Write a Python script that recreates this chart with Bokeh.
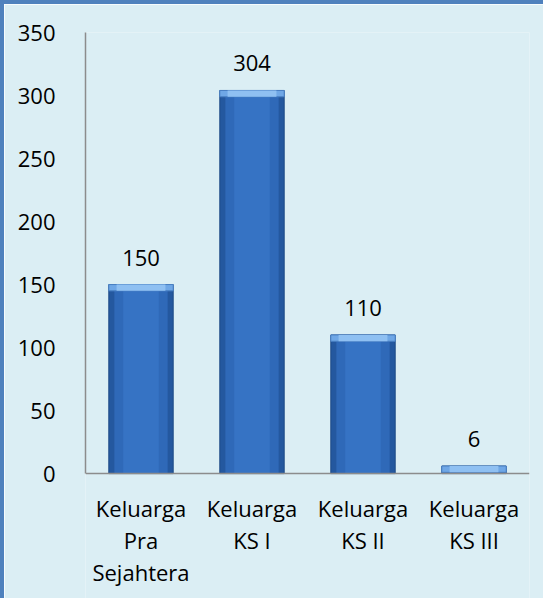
from bokeh.plotting import figure
from bokeh.models import ColumnDataSource, LabelSet, FixedTicker, Range1d, FactorRange, Span
from bokeh.core.properties import value
from bokeh.embed import file_html
from bokeh.resources import INLINE

categories = ["Keluarga Pra Sejahtera", "Keluarga KS I", "Keluarga KS II", "Keluarga KS III"]
tick_label_lines = [["Keluarga", "Pra", "Sejahtera"],
                    ["Keluarga", "KS I"],
                    ["Keluarga", "KS II"],
                    ["Keluarga", "KS III"]]
values = [150, 304, 110, 6]
y_ticks = [0, 50, 100, 150, 200, 250, 300, 350]
y_max = 350

bevel = 5
src = ColumnDataSource(dict(
    cat=categories,
    val=values,
    inner_top=[max(v - bevel, 0) for v in values],
    lab=[str(v) for v in values],
))

BG = "#dbeef4"
FONT = "Open Sans"
FS = "22px"

# frame: top at y_max, y=0 at 438 px below; extra room below 0 for category labels
px_per_unit = 438 / y_max
below_px = 128

p = figure(x_range=FactorRange(*categories, range_padding=0),
           y_range=Range1d(-below_px / px_per_unit, y_max),
           width=543, height=598, output_backend="svg", toolbar_location=None,
           min_border_left=81, min_border_right=18, min_border_top=28, min_border_bottom=0)
p.styles = {"border-top": "4px solid #4f81bd", "border-left": "4px solid #4f81bd"}
p.background_fill_color = BG
p.border_fill_color = BG
p.outline_line_color = None
p.xgrid.grid_line_color = None
p.ygrid.grid_line_color = None
p.xaxis.visible = False

# bar body with darker edges, lighter middle, and a light bevelled top
p.vbar(x="cat", top="val", bottom=0, width=0.58, source=src,
       fill_color="#24589f", line_color="#1d4a86", line_width=1)
p.vbar(x="cat", top="inner_top", bottom=0, width=0.48, source=src,
       fill_color="#2f69b8", line_color=None)
p.vbar(x="cat", top="inner_top", bottom=0, width=0.32, source=src,
       fill_color="#3673c4", line_color=None)
p.vbar(x="cat", top="val", bottom="inner_top", width=0.58, source=src,
       fill_color="#6fa7e6", line_color="#4a80c4", line_width=1)
p.vbar(x="cat", top="val", bottom="inner_top", width=0.44, source=src,
       fill_color="#8fc0f2", line_color=None)

# category axis line at zero
p.add_layout(Span(location=0, dimension="width", line_color="#8c8c8c", line_width=1.5))

labels = LabelSet(x="cat", y="val", text="lab", source=src, y_offset=19,
                  text_align="center", text_baseline="alphabetic",
                  text_font=value(FONT), text_font_size=FS, text_color="#000000")
p.add_layout(labels)

# multi-line category labels under the axis
n_lines = max(len(l) for l in tick_label_lines)
line_offsets = [-43, -75, -107]
for i in range(n_lines):
    line_src = ColumnDataSource(dict(
        cat=categories,
        zero=[0] * len(categories),
        txt=[l[i] if i < len(l) else "" for l in tick_label_lines],
    ))
    p.add_layout(LabelSet(x="cat", y="zero", text="txt", source=line_src,
                          y_offset=line_offsets[i], text_align="center",
                          text_baseline="alphabetic", text_font=value(FONT),
                          text_font_size=FS, text_color="#000000"))

p.yaxis.ticker = FixedTicker(ticks=y_ticks)
p.yaxis.bounds = (0, y_max)
p.yaxis.axis_line_color = "#8c8c8c"
p.yaxis.axis_line_width = 1.5
p.yaxis.major_tick_line_color = None
p.yaxis.minor_tick_line_color = None
p.yaxis.major_label_text_font = FONT
p.yaxis.major_label_text_font_size = FS
p.yaxis.major_label_text_color = "#000000"
p.yaxis.major_label_standoff = 24

open("out.html", "w").write(file_html(p, INLINE))
